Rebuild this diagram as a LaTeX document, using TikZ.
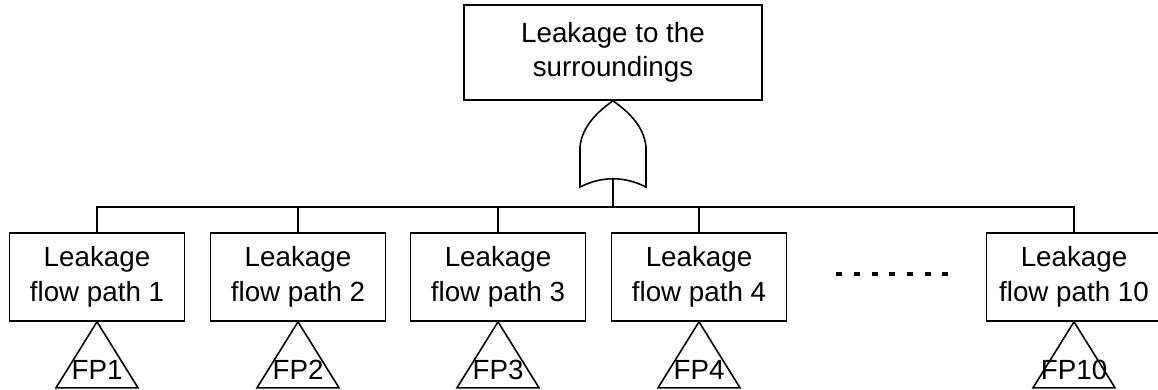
\documentclass[tikz,border=0pt]{standalone}
\usepackage{fontspec}
\setmainfont{Liberation Sans}
\usetikzlibrary{calc,positioning}

\begin{document}
\begin{tikzpicture}[x=0.02cm,y=-0.02cm,line width=0.9pt,
  every node/.style={font=\fontsize{15.8}{19.6}\selectfont,align=center},
  event/.style={draw,minimum width=3.5cm,minimum height=1.76cm,inner sep=0pt},
  transfer/.style={draw,line join=miter}]
	\useasboundingbox (0,0) rectangle (1158,389);

	\node[event,minimum width=5.96cm,minimum height=1.9cm] (top) at (613,52.5) {Leakage to the\\surroundings};

	% or gate
	\coordinate (gin) at (613,179);
	\coordinate (bus) at (613,207);
	\draw (top.south) .. controls (600,110) and (582,125) .. (580,147) -- (580,187)
		.. controls (602,176) and (624,176) .. (646,187) -- (646,147)
		.. controls (644,125) and (626,110) .. (top.south);
	\draw (gin) -- (bus);

	\foreach \i/\x in {1/97,2/298,3/498,4/699,10/1074}{
		\node[event] (lf\i) at (\x,277) {Leakage\\flow path \i};
		\draw (bus) -| (lf\i.north);
		\draw[transfer] (lf\i.south) -- ++(-41,66) -- ++(82,0) -- cycle;
		\node (fp\i) at ($(lf\i.south)+(0,48)$) {FP\i};
	}

	\draw[line width=0.075cm,dash pattern=on 0.12cm off 0.235cm] (836,274) -- (950,274);
\end{tikzpicture}
\end{document}
